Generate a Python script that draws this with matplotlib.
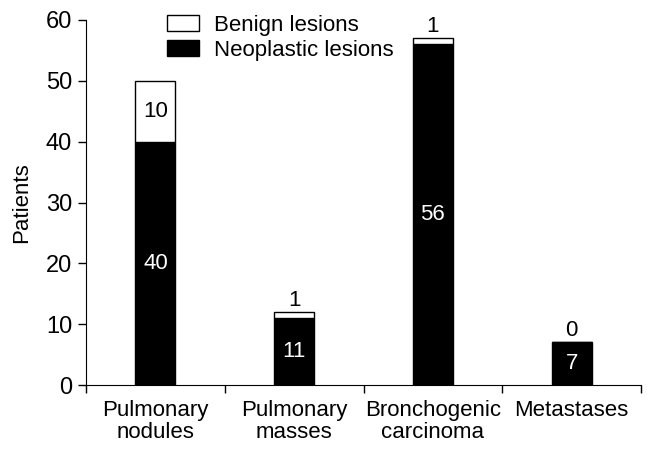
import matplotlib
matplotlib.use("Agg")
import matplotlib.pyplot as plt
import numpy as np

categories = ["Pulmonary\nnodules", "Pulmonary\nmasses", "Bronchogenic\ncarcinoma", "Metastases"]
neoplastic = [40, 11, 56, 7]
benign = [10, 1, 1, 0]

plt.rcParams['font.family'] = ['Liberation Sans', 'DejaVu Sans']
plt.rcParams['font.size'] = 16

fig = plt.figure(figsize=(6.54, 4.55), dpi=100)
ax = fig.add_axes([86 / 654, 1 - 385 / 455, 555 / 654, 365 / 455])

x = np.arange(len(categories))
w = 0.29
ax.bar(x, neoplastic, w, color='black', edgecolor='black', linewidth=1, label='Neoplastic lesions', zorder=3)
ax.bar(x, benign, w, bottom=neoplastic, color='white', edgecolor='black', linewidth=1, label='Benign lesions', zorder=3)

for i in range(len(x)):
    n, b = neoplastic[i], benign[i]
    ax.text(x[i], n / 2, str(n), color='white', ha='center', va='center', fontsize=16)
    if b >= 5:
        ax.text(x[i], n + b / 2, str(b), color='black', ha='center', va='center', fontsize=16)
    else:
        ax.text(x[i], n + b + 1.0, str(b), color='black', ha='center', va='baseline', fontsize=16, clip_on=False)

ax.set_xlim(-0.5, len(categories) - 0.5)
ax.set_ylim(0, 60)
ax.set_yticks(range(0, 61, 10))
ax.set_yticklabels([str(v) for v in range(0, 61, 10)], fontsize=17)
ax.set_xticks(np.arange(-0.5, len(categories), 1.0))
ax.set_xticklabels([])
ax.set_xticks(x, minor=True)
ax.set_xticklabels(categories, minor=True, fontsize=16)
ax.tick_params(axis='x', which='minor', length=0, pad=11)
ax.tick_params(axis='x', which='major', length=6, direction='out', width=1)
ax.tick_params(axis='y', length=6, direction='out', pad=4, width=1)
for lbl in ax.get_xticklabels(minor=True):
    lbl.set_linespacing(1.05)
ax.spines['top'].set_visible(False)
ax.spines['right'].set_visible(False)
ax.set_ylabel('Patients', fontsize=16, labelpad=10)

handles, labels = ax.get_legend_handles_labels()
ax.legend(handles[::-1], labels[::-1], loc='upper left', bbox_to_anchor=(158.5 / 654, 0.9875),
          bbox_transform=fig.transFigure,
          frameon=False, handlelength=1.4, handleheight=0.75, labelspacing=0.2,
          handletextpad=0.7, fontsize=16, borderaxespad=0)

fig.savefig('out.png', dpi=100)
